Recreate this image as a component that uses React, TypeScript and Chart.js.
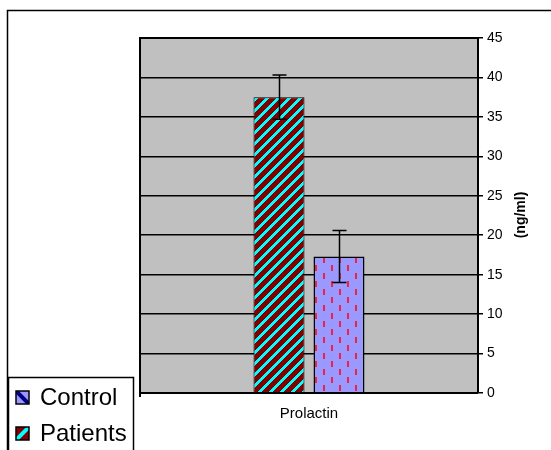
import React, { useEffect, useRef } from 'react';
import { Chart, registerables } from 'chart.js';

Chart.register(...registerables);

const categories = ['Prolactin'];
const patientsLabel = 'Patients';
const controlLabel = 'Control';
const patientsValues = [37.5];
const patientsErrors = [2.8];
const controlValues = [17.3];
const controlErrors = [3.3];
const yMin = 0;
const yMax = 45;
const yStep = 5;
const axisTitle = '(ng/ml)';
const legendOrder = [controlLabel, patientsLabel];

const FONT = "'Liberation Sans', Arial, sans-serif";

function makePatientsPattern(ctx: CanvasRenderingContext2D): CanvasPattern | string {
  const size = 11;
  const c = document.createElement('canvas');
  c.width = size;
  c.height = size;
  const g = c.getContext('2d');
  if (!g) return '#800000';
  const img = g.createImageData(size, size);
  for (let y = 0; y < size; y++) {
    for (let x = 0; x < size; x++) {
      const i = (y * size + x) * 4;
      const k = (x + y) % size;
      const cyan = k < 4;
      img.data[i] = cyan ? 0 : 128;
      img.data[i + 1] = cyan ? 255 : 0;
      img.data[i + 2] = cyan ? 255 : 0;
      img.data[i + 3] = 255;
    }
  }
  g.putImageData(img, 0, 0);
  return ctx.createPattern(c, 'repeat') || '#800000';
}

function makeControlPattern(ctx: CanvasRenderingContext2D): CanvasPattern | string {
  const w = 16;
  const h = 16;
  const c = document.createElement('canvas');
  c.width = w;
  c.height = h;
  const g = c.getContext('2d');
  if (!g) return '#9999FF';
  g.fillStyle = '#9999FF';
  g.fillRect(0, 0, w, h);
  g.fillStyle = '#EE2244';
  g.fillRect(3, 1, 2, 6);
  g.fillRect(11, 9, 2, 6);
  return ctx.createPattern(c, 'repeat') || '#9999FF';
}

const errorBarPlugin = {
  id: 'errorBars',
  afterDatasetsDraw(chart: any) {
    const ctx = chart.ctx;
    const yScale = chart.scales.y;
    chart.data.datasets.forEach((ds: any, di: number) => {
      const meta = chart.getDatasetMeta(di);
      const errs: number[] = ds.errors || [];
      meta.data.forEach((bar: any, i: number) => {
        const v = ds.data[i];
        const e = errs[i] || 0;
        const x = Math.round(bar.x) + 0.5;
        const yTop = yScale.getPixelForValue(v + e);
        const yBot = yScale.getPixelForValue(v - e);
        ctx.save();
        ctx.strokeStyle = '#000';
        ctx.lineWidth = 1.5;
        ctx.beginPath();
        ctx.moveTo(x, yTop);
        ctx.lineTo(x, yBot);
        ctx.moveTo(x - 7, yTop);
        ctx.lineTo(x + 7, yTop);
        ctx.moveTo(x - 7, yBot);
        ctx.lineTo(x + 7, yBot);
        ctx.stroke();
        ctx.restore();
      });
    });
  },
};

const decorPlugin = {
  id: 'decor',
  beforeDraw(chart: any) {
    const { ctx, chartArea } = chart;
    ctx.save();
    ctx.fillStyle = '#fff';
    ctx.fillRect(0, 0, chart.width, chart.height);
    // outer frame
    ctx.strokeStyle = '#000';
    ctx.lineWidth = 1.5;
    ctx.beginPath();
    ctx.moveTo(7.5, chart.height + 2);
    ctx.lineTo(7.5, 10.5);
    ctx.lineTo(chart.width + 2, 10.5);
    ctx.stroke();
    // plot background
    ctx.fillStyle = '#C0C0C0';
    ctx.fillRect(chartArea.left, chartArea.top, chartArea.right - chartArea.left, chartArea.bottom - chartArea.top);
    ctx.restore();
  },
  afterDraw(chart: any) {
    const { ctx, chartArea } = chart;
    ctx.save();
    // plot frame (top, left, bottom)
    ctx.strokeStyle = '#000';
    ctx.lineWidth = 2;
    ctx.beginPath();
    ctx.moveTo(chartArea.right, chartArea.top);
    ctx.lineTo(chartArea.left, chartArea.top);
    ctx.lineTo(chartArea.left, chartArea.bottom + 4);
    ctx.moveTo(chartArea.left, chartArea.bottom);
    ctx.lineTo(chartArea.right, chartArea.bottom);
    ctx.stroke();

    // axis title rotated
    ctx.fillStyle = '#000';
    ctx.font = `bold 14px ${FONT}`;
    ctx.textAlign = 'center';
    ctx.textBaseline = 'middle';
    ctx.translate(521, 215);
    ctx.rotate(-Math.PI / 2);
    ctx.fillText(axisTitle, 0, 0);
    ctx.restore();

    // legend
    ctx.save();
    ctx.fillStyle = '#fff';
    ctx.fillRect(8, 377, 125, 80);
    ctx.strokeStyle = '#000';
    ctx.lineWidth = 1.5;
    ctx.beginPath();
    ctx.moveTo(8.5, chart.height + 2);
    ctx.lineTo(8.5, 377.5);
    ctx.lineTo(133.5, 377.5);
    ctx.lineTo(133.5, chart.height + 2);
    ctx.stroke();

    const rows = [397, 433];
    legendOrder.forEach((name, i) => {
      const cy = rows[i];
      const sx = 16;
      const sy = cy - 6;
      const s = 13;
      ctx.save();
      ctx.beginPath();
      ctx.rect(sx, sy, s, s);
      ctx.clip();
      if (name === controlLabel) {
        ctx.fillStyle = '#9999FF';
        ctx.fillRect(sx, sy, s, s);
        ctx.strokeStyle = '#000080';
        ctx.lineWidth = 4;
        ctx.beginPath();
        ctx.moveTo(sx, sy);
        ctx.lineTo(sx + s, sy + s);
        ctx.stroke();
      } else {
        ctx.fillStyle = '#800000';
        ctx.fillRect(sx, sy, s, s);
        ctx.strokeStyle = '#00FFFF';
        ctx.lineWidth = 4;
        ctx.beginPath();
        ctx.moveTo(sx, sy + s);
        ctx.lineTo(sx + s, sy);
        ctx.stroke();
      }
      ctx.restore();
      ctx.strokeStyle = '#000';
      ctx.lineWidth = 1.5;
      ctx.strokeRect(sx, sy, s, s);
      ctx.fillStyle = '#000';
      ctx.font = `24px ${FONT}`;
      ctx.textAlign = 'left';
      ctx.textBaseline = 'middle';
      ctx.fillText(name, 40, cy + 1);
    });
    ctx.restore();
  },
};

export default function App() {
  const ref = useRef<HTMLCanvasElement | null>(null);

  useEffect(() => {
    document.body.style.margin = '0';
    const canvas = ref.current;
    if (!canvas) return;
    const ctx = canvas.getContext('2d');
    if (!ctx) return;
    const pPat = makePatientsPattern(ctx);
    const cPat = makeControlPattern(ctx);

    const chart = new Chart(canvas, {
      type: 'bar',
      data: {
        labels: categories,
        datasets: [
          {
            label: patientsLabel,
            data: patientsValues,
            errors: patientsErrors,
            backgroundColor: pPat as any,
            borderColor: '#000',
            borderWidth: 1,
            categoryPercentage: 0.355,
            barPercentage: 0.85,
          } as any,
          {
            label: controlLabel,
            data: controlValues,
            errors: controlErrors,
            backgroundColor: cPat as any,
            borderColor: '#000',
            borderWidth: 1.5,
            categoryPercentage: 0.355,
            barPercentage: 0.85,
          } as any,
        ],
      },
      options: {
        responsive: false,
        animation: false,
        devicePixelRatio: 1,
        layout: { padding: { left: 140, top: 38, right: 0, bottom: 0 } },
        plugins: {
          legend: { display: false },
          tooltip: { enabled: false },
          title: { display: false },
        },
        scales: {
          x: {
            position: 'bottom',
            grid: { display: false, drawTicks: false },
            border: { display: false },
            ticks: {
              color: '#000',
              font: { family: FONT, size: 15 },
              padding: 12,
            },
            afterFit(scale: any) {
              scale.height = 57;
            },
          },
          y: {
            position: 'right',
            min: yMin,
            max: yMax,
            grid: {
              color: '#000',
              lineWidth: 1.5,
              drawTicks: true,
              tickLength: 5,
              tickColor: '#000',
            },
            border: { display: true, color: '#000', width: 2 },
            ticks: {
              stepSize: yStep,
              color: '#000',
              font: { family: FONT, size: 14 },
              padding: 4,
            },
            afterFit(scale: any) {
              scale.width = 73;
            },
          },
        },
      },
      plugins: [decorPlugin, errorBarPlugin],
    });
    return () => chart.destroy();
  }, []);

  return (
    <div style={{ width: 551, height: 450 }}>
      <canvas ref={ref} width={551} height={450} style={{ display: 'block' }} />
    </div>
  );
}
